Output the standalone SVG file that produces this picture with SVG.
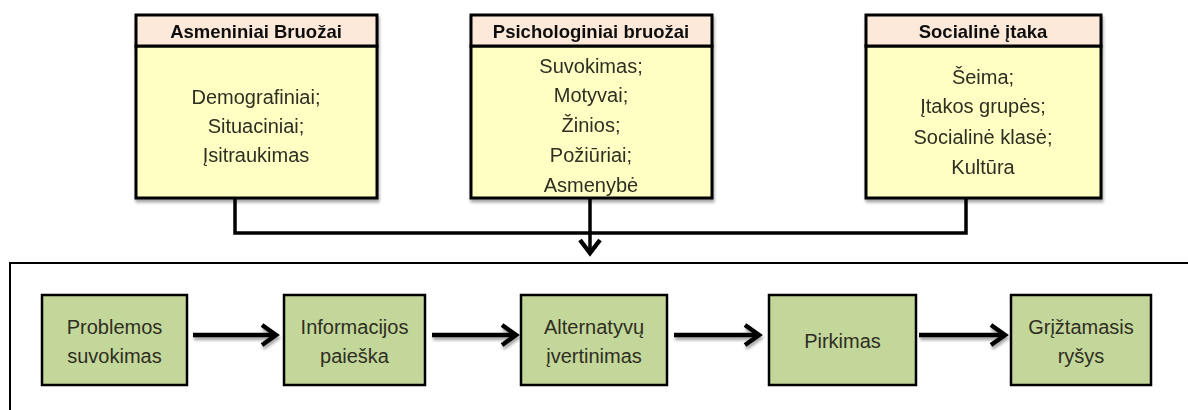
<svg xmlns="http://www.w3.org/2000/svg" width="1188" height="410" viewBox="0 0 1188 410">
<style>
.hdr{fill:#fde9d9;stroke:#000;stroke-width:3}
.body{fill:#ffffc4;stroke:#000;stroke-width:3}
.step{fill:#c4d79b;stroke:#000;stroke-width:2.5}
.t{font-family:"Liberation Sans",Arial,sans-serif;font-size:20px;fill:#2e2e22;text-anchor:middle}
.h{font-weight:bold;font-size:18.5px;fill:#111}
.con{fill:none;stroke:#000;stroke-width:3.5}
.arr{fill:none;stroke:#000;stroke-width:4.5}
.head{fill:none;stroke:#000;stroke-width:4.5;stroke-linecap:butt;stroke-linejoin:miter}
</style>
<defs>
<filter id="sh" x="-10%" y="-10%" width="130%" height="150%">
<feGaussianBlur in="SourceAlpha" stdDeviation="1.5"/>
<feOffset dx="1" dy="2.5" result="o"/>
<feComponentTransfer><feFuncA type="linear" slope="0.35"/></feComponentTransfer>
<feMerge><feMergeNode/><feMergeNode in="SourceGraphic"/></feMerge>
</filter>
</defs>

<rect x="10" y="263" width="1190" height="160" fill="#fff" stroke="#000" stroke-width="2"/>

<g id="connectors">
<path class="con" d="M235 198 V233 H966 V198"/>
<path class="con" d="M590 198 V252"/>
<path class="head" d="M580 240 L590 253 L600 240"/>
<g filter="url(#sh)">
<path class="arr" d="M193 335 H274"/>
<path class="head" d="M262 325 L276 335 L262 345"/>
<path class="arr" d="M432 335 H514"/>
<path class="head" d="M502 325 L516 335 L502 345"/>
<path class="arr" d="M674 335 H757"/>
<path class="head" d="M745 325 L759 335 L745 345"/>
<path class="arr" d="M919 335 H1003"/>
<path class="head" d="M991 325 L1005 335 L991 345"/>
</g>
</g>

<g id="asmeniniai" filter="url(#sh)">
<rect class="body" x="136" y="46" width="241" height="152"/>
<rect class="hdr" x="136" y="15" width="241" height="31"/>
<text class="t h" x="256" y="38">Asmeniniai Bruožai</text>
<text class="t" x="256" y="104">Demografiniai;</text>
<text class="t" x="256" y="133">Situaciniai;</text>
<text class="t" x="256" y="162">Įsitraukimas</text>
</g>

<g id="psichologiniai" filter="url(#sh)">
<rect class="body" x="471" y="46" width="241" height="152"/>
<rect class="hdr" x="471" y="15" width="241" height="31"/>
<text class="t h" x="591" y="38">Psichologiniai bruožai</text>
<text class="t" x="591" y="73">Suvokimas;</text>
<text class="t" x="591" y="102">Motyvai;</text>
<text class="t" x="591" y="132">Žinios;</text>
<text class="t" x="591" y="162">Požiūriai;</text>
<text class="t" x="591" y="192">Asmenybė</text>
</g>

<g id="socialine" filter="url(#sh)">
<rect class="body" x="866" y="46" width="235" height="152"/>
<rect class="hdr" x="866" y="15" width="235" height="31"/>
<text class="t h" x="983" y="38">Socialinė įtaka</text>
<text class="t" x="983" y="84">Šeima;</text>
<text class="t" x="983" y="113">Įtakos grupės;</text>
<text class="t" x="983" y="144">Socialinė klasė;</text>
<text class="t" x="983" y="174">Kultūra</text>
</g>

<g id="problemos">
<rect class="step" x="42" y="295" width="145" height="90"/>
<text class="t" x="114.5" y="334">Problemos</text>
<text class="t" x="114.5" y="363">suvokimas</text>
</g>
<g id="informacijos">
<rect class="step" x="284" y="295" width="141" height="90"/>
<text class="t" x="354.5" y="334">Informacijos</text>
<text class="t" x="354.5" y="363">paieška</text>
</g>
<g id="alternatyvu">
<rect class="step" x="521" y="295" width="146" height="90"/>
<text class="t" x="594" y="334">Alternatyvų</text>
<text class="t" x="594" y="363">įvertinimas</text>
</g>
<g id="pirkimas">
<rect class="step" x="769" y="295" width="147" height="90"/>
<text class="t" x="842.5" y="348">Pirkimas</text>
</g>
<g id="grztamasis">
<rect class="step" x="1011" y="295" width="140" height="90"/>
<text class="t" x="1081" y="334">Grįžtamasis</text>
<text class="t" x="1081" y="363">ryšys</text>
</g>
</svg>
